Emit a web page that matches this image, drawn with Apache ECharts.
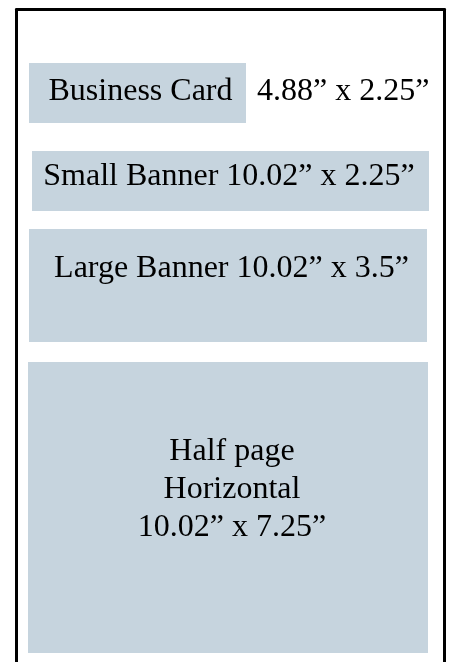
<!DOCTYPE html>
<html>
<head>
<meta charset="utf-8">
<script src="https://cdn.jsdelivr.net/npm/echarts@6/dist/echarts.min.js"></script>
<style>
html, body { margin: 0; padding: 0; background: #fff; }
#main { width: 450px; height: 662px; }
</style>
</head>
<body>
<div id="main"></div>
<script>
// ad formats
const names = ['Business Card', 'Small Banner', 'Large Banner', 'Half page\nHorizontal'];
const sizes = ['4.88\u201d x 2.25\u201d', '10.02\u201d x 2.25\u201d', '10.02\u201d x 3.5\u201d', '10.02\u201d x 7.25\u201d'];
// how the size is written: beside the box, on the same line, or on a new line
const sizeMode = ['beside', 'inline', 'inline', 'newline'];

// box extents on the sheet (page units, same as the layout px)
const boxLeft = [29, 32, 29, 28];
const boxRight = [246, 429, 427, 428];
const boxTop = [63, 151, 229, 362];
const boxBottom = [123, 211, 342, 653];

// label shift from the box centre
const labelDx = [3, -1.5, 3.5, 4];
const labelDy = [-1, -4, -16.5, -17.5];

const FONT = '32px "Liberation Serif", "Times New Roman", serif';

const data = names.map((n, i) => [boxLeft[i], boxRight[i], boxTop[i], boxBottom[i]]);

function renderItem(params, api) {
    const i = params.dataIndex;
    const p0 = api.coord([api.value(0), api.value(2)]);
    const p1 = api.coord([api.value(1), api.value(3)]);
    const w = p1[0] - p0[0];
    const h = p1[1] - p0[1];
    const cx = p0[0] + w / 2 + labelDx[i];
    const cy = p0[1] + h / 2 + labelDy[i];

    let text = names[i];
    if (sizeMode[i] === 'inline') text = names[i] + ' ' + sizes[i];
    if (sizeMode[i] === 'newline') text = names[i] + '\n' + sizes[i];

    const children = [
        { type: 'rect', shape: { x: p0[0], y: p0[1], width: w, height: h }, style: { fill: '#c6d4de' } },
        {
            type: 'text',
            style: {
                text: text, x: cx, y: cy, font: FONT, fill: '#000',
                align: 'center', verticalAlign: 'middle', lineHeight: 38
            }
        }
    ];
    if (sizeMode[i] === 'beside') {
        children.push({
            type: 'text',
            style: {
                text: sizes[i], x: p1[0] + 11, y: cy, font: FONT, fill: '#000',
                align: 'left', verticalAlign: 'middle'
            }
        });
    }
    return { type: 'group', children: children };
}

// the sheet outline: top, left and right axis lines (open at the bottom)
const frameLine = { show: true, onZero: false, lineStyle: { color: '#000', width: 3 } };

const option = {
    animation: false,
    grid: { left: 16.5, top: 9.5, right: 5.5, bottom: 0 },
    xAxis: {
        type: 'value', min: 16.5, max: 444.5, position: 'top',
        axisLine: frameLine, axisTick: { show: false }, axisLabel: { show: false }, splitLine: { show: false }
    },
    yAxis: [
        {
            type: 'value', min: 9.5, max: 662, inverse: true, position: 'left',
            axisLine: frameLine, axisTick: { show: false }, axisLabel: { show: false }, splitLine: { show: false }
        },
        {
            type: 'value', min: 9.5, max: 662, inverse: true, position: 'right',
            axisLine: frameLine, axisTick: { show: false }, axisLabel: { show: false }, splitLine: { show: false }
        }
    ],
    series: [{
        type: 'custom',
        renderItem: renderItem,
        encode: { x: [0, 1], y: [2, 3] },
        data: data
    }]
};

const myChart = echarts.init(document.getElementById('main'));
myChart.setOption(option);
</script>
</body>
</html>
